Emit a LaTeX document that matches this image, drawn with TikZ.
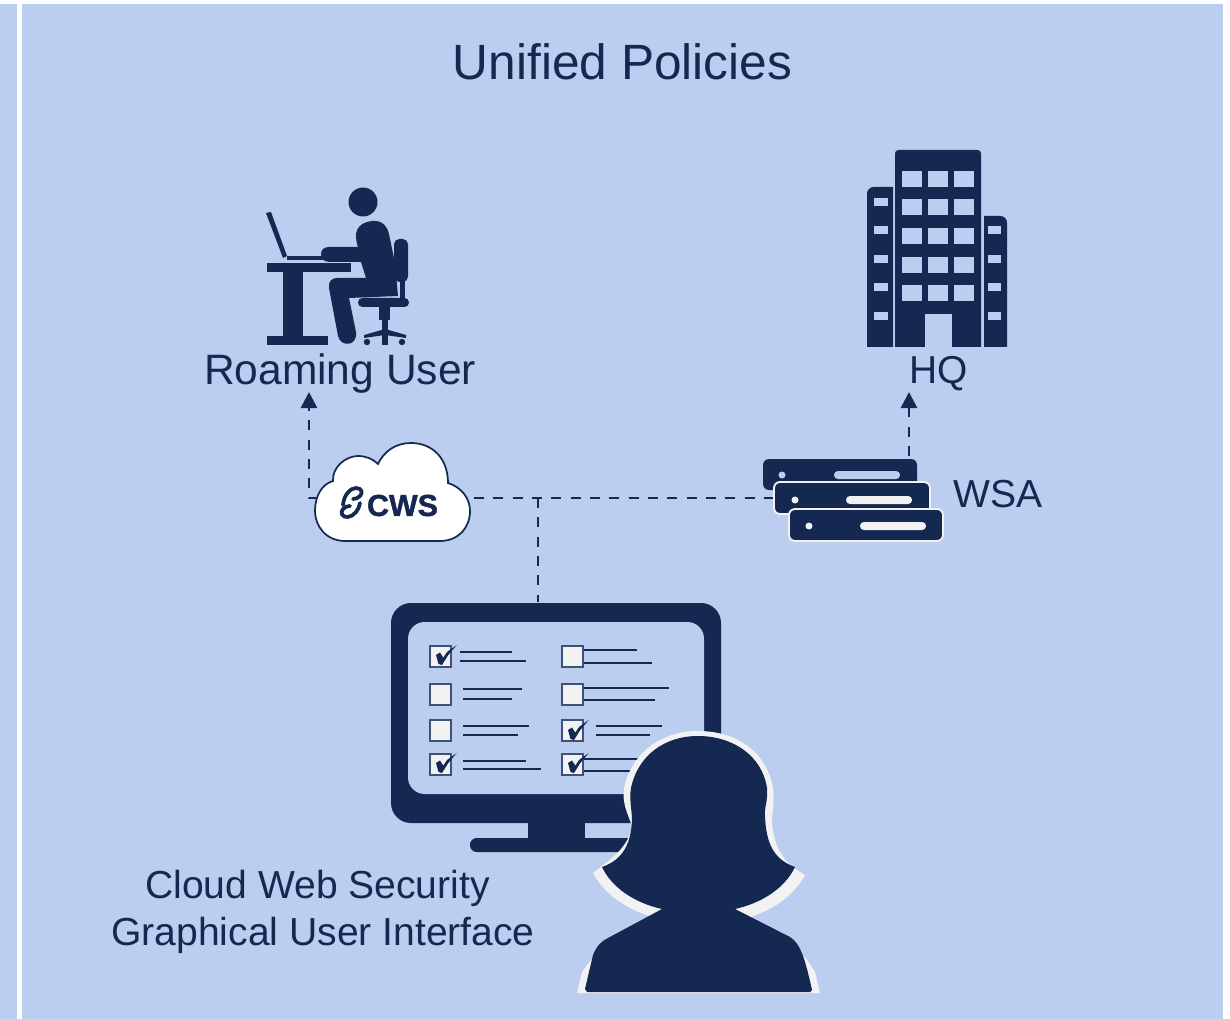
\documentclass[tikz,border=0pt]{standalone}
\usepackage{fontspec}
\setmainfont{Liberation Sans}
\newfontfamily\cwsfont[FakeBold=1.4]{Liberation Sans Bold}
\usetikzlibrary{arrows.meta}
\definecolor{navy}{RGB}{21,40,82}
\definecolor{panel}{RGB}{188,206,239}
\definecolor{paper}{RGB}{242,242,242}
\tikzset{
  lbl/.style={text=navy, inner sep=0pt, align=center},
  link/.style={navy, line width=2pt, dash pattern=on 7.5pt off 7pt},
  linkend/.style={link, -{Triangle[length=12pt,width=12pt]}},
  window/.style={fill=panel, draw=none},
  tick/.style={navy, line width=1.3pt},
  rack/.style={fill=navy, draw=paper, line width=1.4pt, rounded corners=4.5pt},
  tickbox/.style={fill=paper, draw=navy!75!panel, line width=1pt}
}
\newcommand{\markbox}[2]{%
  \fill[navy] (#1-7,#2-1) -- (#1-3,#2-3.5) -- (#1+0.3,#2+1.7) -- (#1+4,#2-4) -- (#1+13.7,#2-11)
    -- (#1+5.3,#2-1) -- (#1-1,#2+9) -- (#1-4.5,#2+8) -- cycle;}
\begin{document}
\begin{tikzpicture}[x=0.75pt,y=-0.75pt]
  \useasboundingbox (0,0) rectangle (1230,1019);
  \fill[white] (0,0) rectangle (1230,1019);
  \fill[panel] (0,4) rectangle (17,1019);
  \fill[panel] (22,4) rectangle (1223,1019);

  \node[lbl, font=\fontsize{37.2pt}{40pt}\selectfont] (title) at (622.5,62) {Unified Policies};
  \node[lbl, font=\fontsize{31.9pt}{36pt}\selectfont] (roaming) at (340,374) {Roaming User};
  \node[lbl, font=\fontsize{29.2pt}{36pt}\selectfont] (hq) at (938.5,374) {HQ};
  \node[lbl, font=\fontsize{29.3pt}{36pt}\selectfont] (wsa) at (998,494) {WSA};
  \node[lbl, font=\fontsize{29.3pt}{35.6pt}\selectfont] (gui) at (323,912) {Cloud Web Security\hspace{8.2pt}\mbox{}\\Graphical User Interface};

  % roaming user at the desk
  \fill[navy] (267,263) rectangle (351,272);
  \fill[navy] (283,272) rectangle (303,336);
  \fill[navy] (267,336) rectangle (328,345);
  \fill[navy] (266,213) -- (271,212) -- (287,256) -- (283,258) -- cycle;
  \fill[navy] (287,256) rectangle (324,260);
  \fill[navy] (363,202) circle (14.5);
  \fill[navy] (321,254) .. controls (321,250) and (324,247) .. (329,247) -- (358,247)
     .. controls (353,232) and (357,223) .. (372,221) .. controls (382,220) and (387,226) .. (389,234)
     -- (395,263) -- (398,296) -- (349,298) -- (356,332)
     .. controls (358,346) and (341,348) .. (338,336) -- (329,288)
     .. controls (328,282) and (331,278) .. (338,278) -- (366,278) -- (361,262)
     -- (330,262) .. controls (324,262) and (321,259) .. (321,254) -- cycle;
  \fill[navy, rounded corners=4pt] (394,239) rectangle (408,282);
  \fill[navy] (400,280) rectangle (405,298);
  \fill[navy, rounded corners=3.3pt] (358,298) rectangle (409,307);
  \fill[navy] (379,307) rectangle (390,320);
  \fill[navy] (382,320) rectangle (388,345);
  \fill[navy] (364,335) -- (385,329) -- (406,335) -- (406,338) -- (385,335) -- (364,338) -- cycle;
  \fill[navy] (367,342) circle (3.2);
  \fill[navy] (402,342) circle (3.2);

  % headquarters
  \fill[navy] (895,347) [rounded corners=2.5pt] -- (895,150) -- (981,150) [sharp corners] -- (981,347) -- cycle;
  \fill[navy] (867,347) [rounded corners=5pt] -- (867,187) [sharp corners] -- (893,187) -- (893,347) -- cycle;
  \fill[navy] (984,347) -- (984,216) [rounded corners=5pt] -- (1007,216) [sharp corners] -- (1007,347) -- cycle;
  \foreach \row in {171,199,228,257,285}
    \foreach \col in {902,928,954}
      \fill[window] (\col,\row) rectangle ++(20,16.5);
  \fill[window] (925,314) rectangle (952,347);
  \foreach \row in {198,226,255,283,312}
    \fill[window] (874,\row) rectangle ++(14,8);
  \foreach \row in {226,255,283,312}
    \fill[window] (988,\row) rectangle ++(13,8);

  % connectors
  \coordinate (cwsleft) at (316,498);
  \coordinate (cwsright) at (474,498);
  \coordinate (rackleft) at (774,498);
  \coordinate (racktop) at (909,456);
  \coordinate (branch) at (538,498);
  \coordinate (screentop) at (538,602);
  \coordinate (roamingfoot) at (309,392);
  \coordinate (hqfoot) at (909,392);
  \draw[linkend, dash phase=2pt] (cwsleft) -- (309,498) -- (roamingfoot);
  \draw[link] (cwsright) -- (rackleft);
  \draw[link] (branch) -- (screentop);
  \draw[linkend] (racktop) -- (hqfoot);

  % cloud
  \draw[fill=white, draw=navy, line width=1.3pt] (345,541)
    .. controls (326,541) and (315,526) .. (315,511)
    .. controls (315,496) and (322,484) .. (333,481)
    .. controls (332,467) and (346,456) .. (358,456)
    .. controls (366,456) and (373,459) .. (378,464)
    .. controls (384,451) and (396,443) .. (411,443)
    .. controls (433,443) and (448,459) .. (448,483)
    .. controls (461,487) and (470,498) .. (470,511)
    .. controls (470,528) and (458,541) .. (440,541) -- cycle;
  \node[lbl, font=\fontsize{22.8pt}{24pt}\cwsfont] (cws) at (402.5,505.5) {CWS};
  \draw[navy, line width=2.8pt, line cap=round] (343,505) .. controls (344,494) and (351,488) .. (356,488)
     .. controls (362,488) and (363,493) .. (360,496) .. controls (358,498) and (356,499) .. (353,499);
  \draw[navy, line width=2.8pt, line cap=round] (360,503) .. controls (359,510) and (354,516) .. (348,517)
     .. controls (342,518) and (340,512) .. (343,509) .. controls (345,507) and (347,506) .. (350,506);

  % web security appliances
  \fill[navy, rounded corners=4.5pt] (763,459) rectangle (917,490);
  \fill[panel] (782,475) circle (3.5);
  \fill[panel, rounded corners=2.9pt] (834,471) rectangle (900,479);
  \draw[rack] (774,482) rectangle (930,514);
  \fill[paper] (795,500) circle (3.5);
  \fill[paper, rounded corners=2.9pt] (846,496) rectangle (912,504);
  \draw[rack] (789,509) rectangle (943,541);
  \fill[paper] (809,526) circle (3.5);
  \fill[paper, rounded corners=2.9pt] (860,522) rectangle (926,530);

  % monitor
  \fill[navy, rounded corners=15pt] (391,603) rectangle (721,823);
  \fill[panel, rounded corners=12.5pt] (408,622) rectangle (704,794);
  \fill[navy] (528,823) rectangle (585,838);
  \fill[navy, rounded corners=5pt] (470,838) rectangle (650,852);

  \foreach \bx/\by in {430/646,430/684,430/720,430/754,562/646,562/684,562/720,562/754}
    \draw[tickbox] (\bx,\by) rectangle ++(21,21);
  \markbox{443}{656}
  \markbox{443}{764}
  \markbox{575}{731}
  \markbox{575}{764}
  \foreach \ax/\bx/\ay in {460/512/652,460/526/661,463/522/689,463/512/699,463/529/726,463/518/735,463/526/761,463/541/769,
      584/637/650,584/652/663,584/669/688,584/655/700,596/662/726,596/650/735,584/640/759,584/640/771}
    \draw[tick] (\ax,\ay) -- (\bx,\ay);

  % person in front of the screen
  \fill[paper] (698,731) .. controls (735,731) and (766,750) .. (773,788)
    .. controls (775,808) and (771,815) .. (772,824) .. controls (775,848) and (782,862) .. (805,875)
    .. controls (792,898) and (772,910) .. (750,917) -- (744,930) -- (770,955) -- (805,957) -- (815,972) -- (820,993)
    -- (577,993) -- (582,972) -- (593,957) -- (625,955) -- (650,930) -- (653,917)
    .. controls (628,910) and (605,895) .. (593,873)
    .. controls (612,858) and (628,848) .. (632,826) .. controls (627,812) and (622,803) .. (624,788)
    .. controls (632,752) and (662,731) .. (698,731) -- cycle;
  \fill[navy] (698,736) .. controls (732,736) and (762,755) .. (767,788)
    .. controls (768,802) and (764,808) .. (765,816) .. controls (766,845) and (775,860) .. (795,867)
    .. controls (785,888) and (762,903) .. (735,909) -- (790,937)
    .. controls (800,943) and (805,958) .. (812,990) -- (810,992) -- (587,992) -- (585,989)
    -- (593,955) .. controls (597,945) and (602,941) .. (608,938) -- (662,909)
    .. controls (635,903) and (612,888) .. (602,867) .. controls (622,860) and (631,845) .. (632,820)
    .. controls (632,810) and (629,800) .. (631,788) .. controls (638,755) and (665,736) .. (698,736) -- cycle;
\end{tikzpicture}
\end{document}
